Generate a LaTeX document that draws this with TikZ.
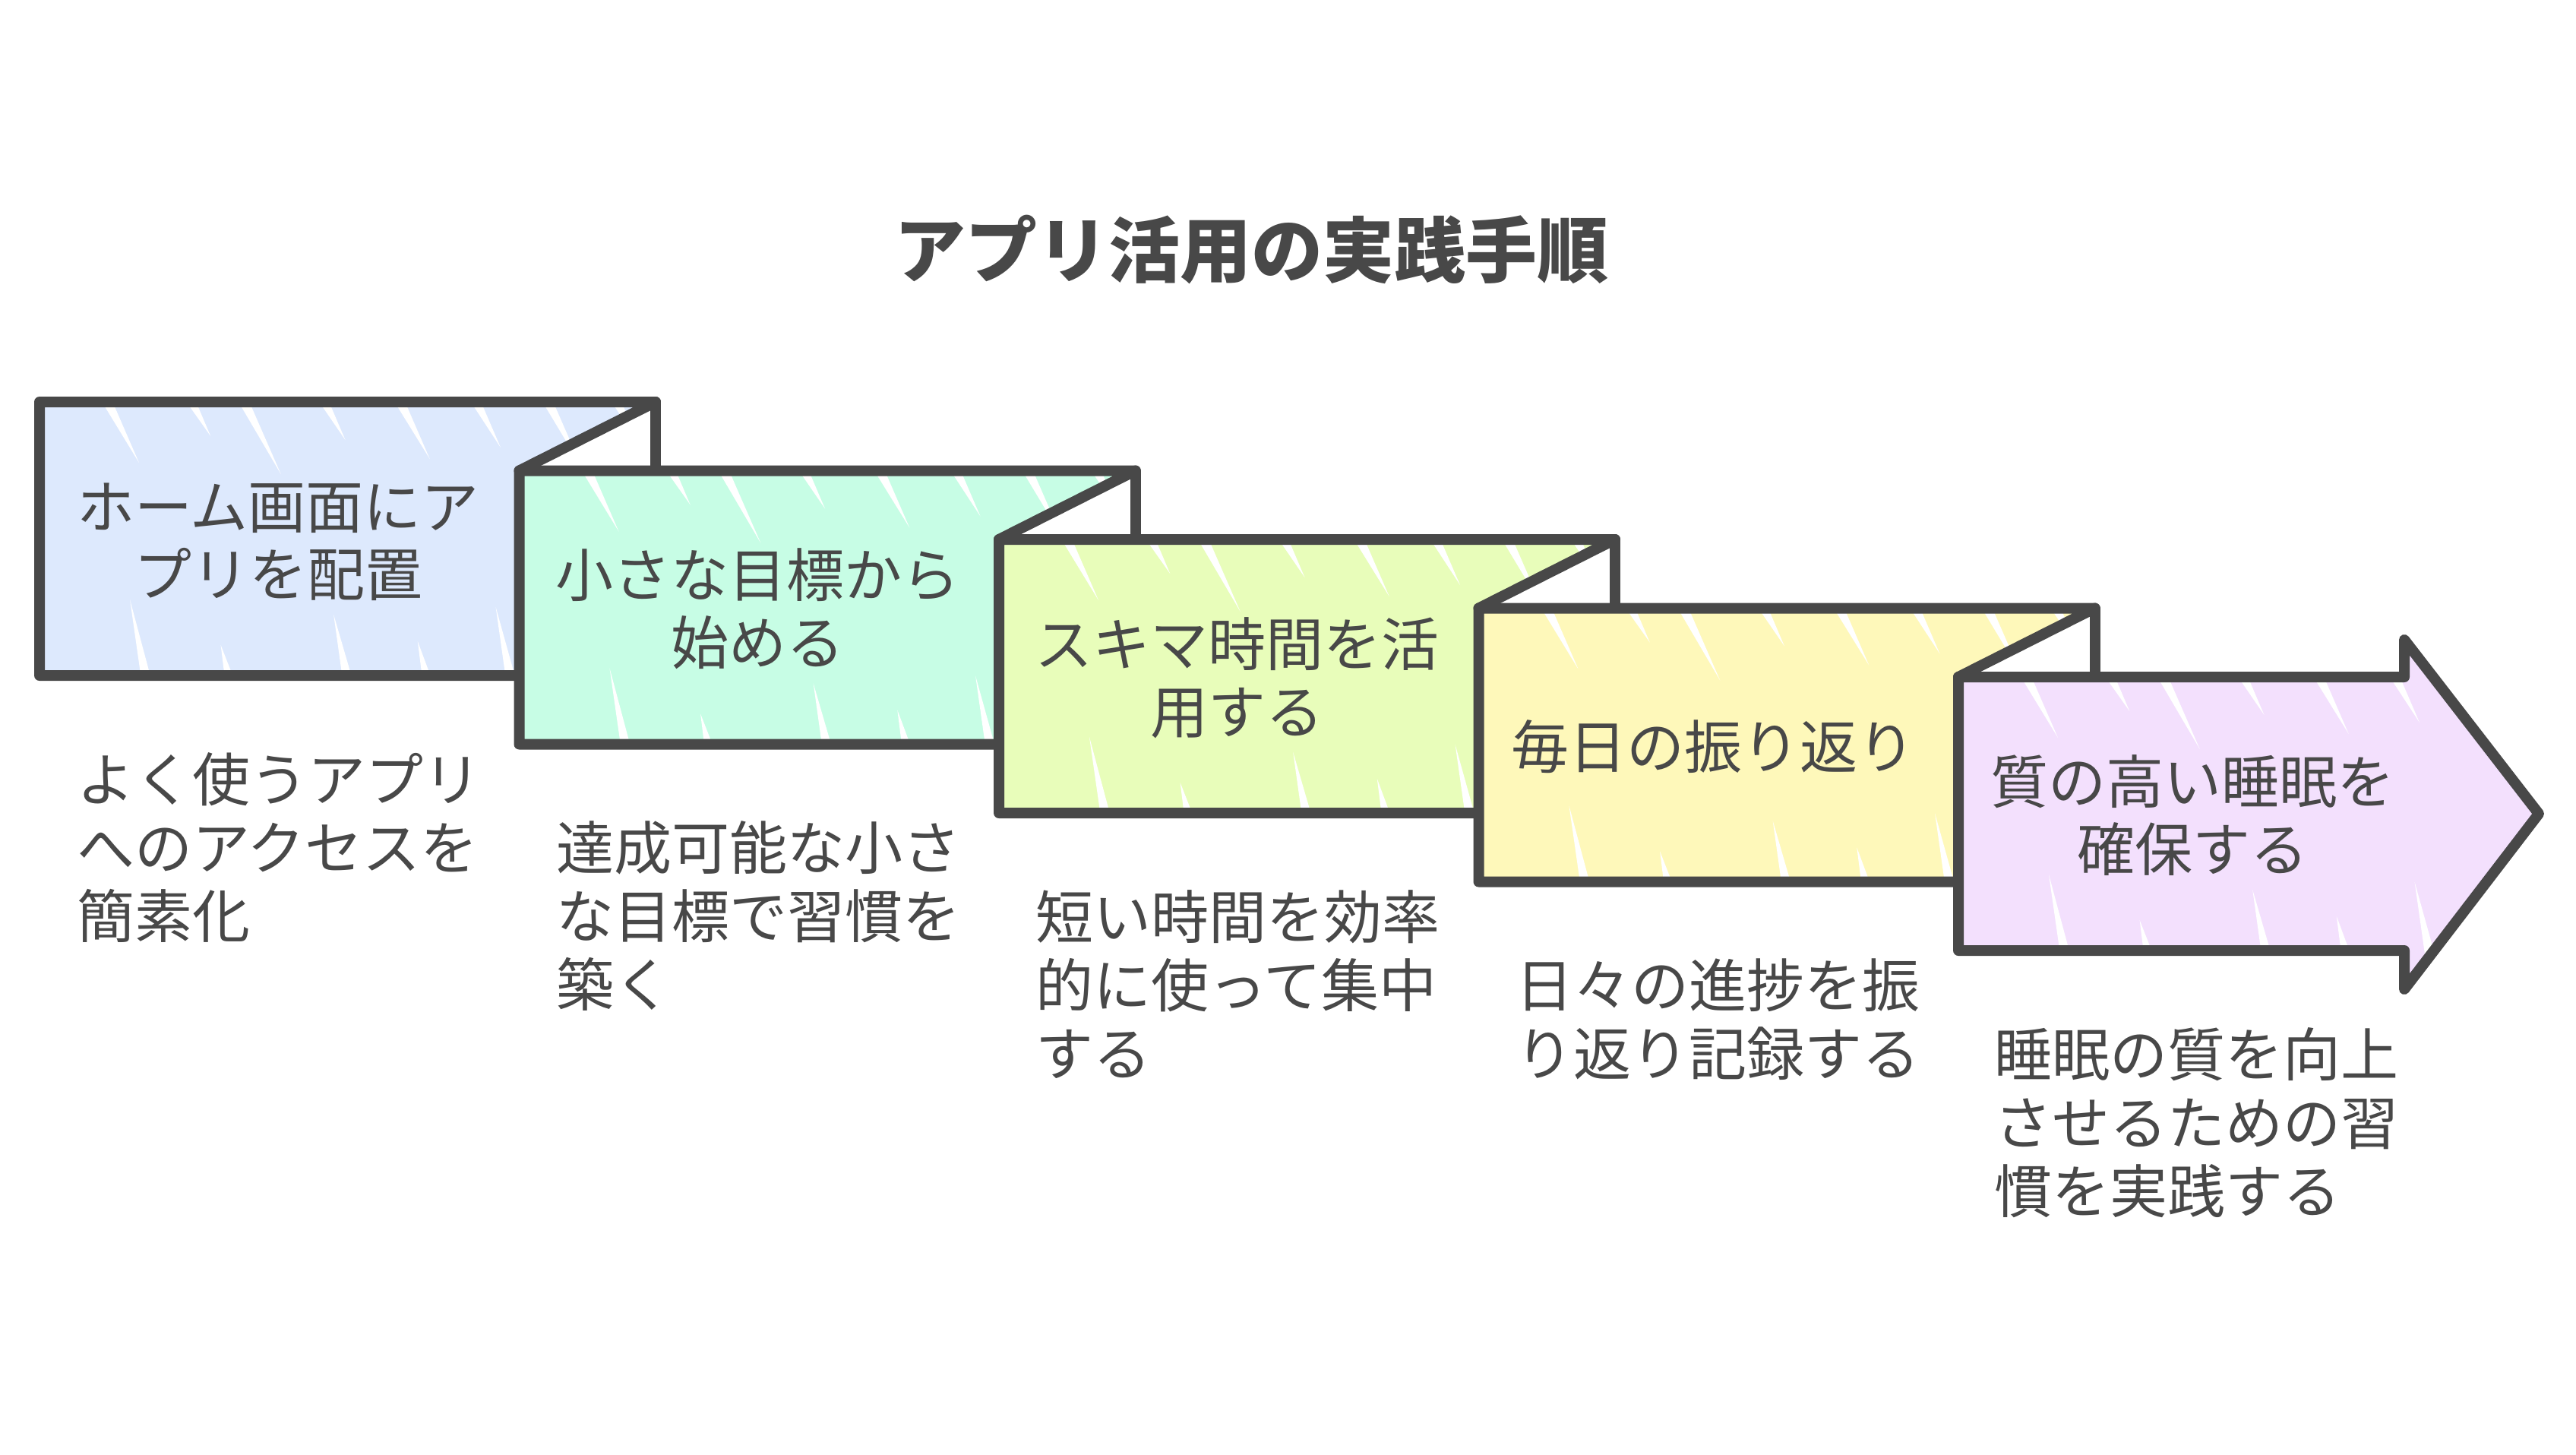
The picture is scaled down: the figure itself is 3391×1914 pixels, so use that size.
\documentclass[tikz,border=0pt]{standalone}
\usepackage{fontspec}
\setmainfont{Noto Sans CJK JP}
\definecolor{ink}{HTML}{484848}
\definecolor{cA}{HTML}{DDE9FD}
\definecolor{cB}{HTML}{C7FDE5}
\definecolor{cC}{HTML}{E8FDBA}
\definecolor{cD}{HTML}{FEF8BA}
\definecolor{cE}{HTML}{F3E0FD}
\newcommand\leftlines[1]{\vtop{\halign{##\hfil\cr#1\crcr}}}
\newcommand\midlines[1]{\vtop{\halign{\hfil##\hfil\cr#1\crcr}}}
% white hachure gaps: #1 left x, #2 top y, #3 bottom y
\newcommand\gaps[3]{%
  \foreach \o/\l in {75/80,185/45,255/95,360/50,460/75,560/60,655/85,745/55}{
    \fill[white] ({#1+\o},{#2-12}) -- ({#1+\o+16},{#2-12}) -- ({#1+\o+0.45*\l+20},{#2+\l}) -- cycle;
  }
  \foreach \o/\l in {135/100,245/40,400/80,505/45,615/90,705/60}{
    \fill[white] ({#1+\o},{#3+12}) -- ({#1+\o+14},{#3+12}) -- ({#1+\o-0.16*\l},{#3-\l}) -- cycle;
  }
}
\tikzset{
  edge/.style={draw=ink, line width=14pt, line join=round, line cap=round},
  boxtext/.style={anchor=base, inner sep=0pt, text=ink, font=\fontsize{76}{89}\selectfont},
  desctext/.style={anchor=base west, inner sep=0pt, text=ink, font=\fontsize{76}{90}\selectfont},
  titletext/.style={anchor=base, inner sep=0pt, text=ink, font=\fontsize{94}{110}\selectfont\bfseries}
}
\begin{document}
\begin{tikzpicture}[x=1pt,y=-1pt]
\useasboundingbox (0,0) rectangle (3391,1914);
\fill[white] (0,0) rectangle (3391,1914);

\node[titletext] (title) at (1647,364) {アプリ活用の実践手順};

\foreach \i/\col in {0/cA,1/cB,2/cC,3/cD}{
  \pgfmathsetmacro\L{52+631.5*\i}
  \pgfmathsetmacro\T{529+90.5*\i}
  \pgfmathsetmacro\B{\T+360}
  \pgfmathsetmacro\C{\L+811}
  \pgfmathsetmacro\N{\L+631.5}
  \pgfmathsetmacro\U{\T+90.5}
  \fill[\col] (\L,\T) -- (\C,\T) -- (\N,\U) -- (\N,\B) -- (\L,\B) -- cycle;
  \begin{scope}
    \clip (\L,\T) -- (\C,\T) -- (\N,\U) -- (\N,\B) -- (\L,\B) -- cycle;
    \gaps{\L}{\T}{\B}
  \end{scope}
  \fill[white] (\C,\T) -- (\N,\U) -- (\C,\U) -- cycle;
  \draw[edge] (\N,\B) -- (\L,\B) -- (\L,\T) -- (\C,\T) -- (\N,\U);
  \draw[edge] (\C,\T) -- (\C,\U);
}
\fill[cE] (2578,891) -- (3165,891) -- (3165,842) -- (3342,1071) -- (3165,1302) -- (3165,1251) -- (2578,1251) -- cycle;
\begin{scope}
  \clip (2578,891) -- (3165,891) -- (3165,842) -- (3342,1071) -- (3165,1302) -- (3165,1251) -- (2578,1251) -- cycle;
  \gaps{2578}{891}{1251}
\end{scope}
\draw[edge] (2578,891) -- (3165,891) -- (3165,842) -- (3342,1071) -- (3165,1302) -- (3165,1251) -- (2578,1251) -- cycle;

\node[boxtext] (s1) at (366,695) {\midlines{ホーム画面にア\cr プリを配置}};
\node[boxtext] (s2) at (997,785.5) {\midlines{小さな目標から\cr 始める}};
\node[boxtext] (s3) at (1628,876) {\midlines{スキマ時間を活\cr 用する}};
\node[boxtext] (s4) at (2255,1011) {毎日の振り返り};
\node[boxtext] (s5) at (2886,1057) {\midlines{質の高い睡眠を\cr 確保する}};

\node[desctext] (d1) at (101,1054) {\leftlines{よく使うアプリ\cr へのアクセスを\cr 簡素化}};
\node[desctext] (d2) at (732,1144.5) {\leftlines{達成可能な小さ\cr な目標で習慣を\cr 築く}};
\node[desctext] (d3) at (1363,1235) {\leftlines{短い時間を効率\cr 的に使って集中\cr する}};
\node[desctext] (d4) at (1995,1325.5) {\leftlines{日々の進捗を振\cr り返り記録する}};
\node[desctext] (d5) at (2625,1416) {\leftlines{睡眠の質を向上\cr させるための習\cr 慣を実践する}};
\end{tikzpicture}
\end{document}
